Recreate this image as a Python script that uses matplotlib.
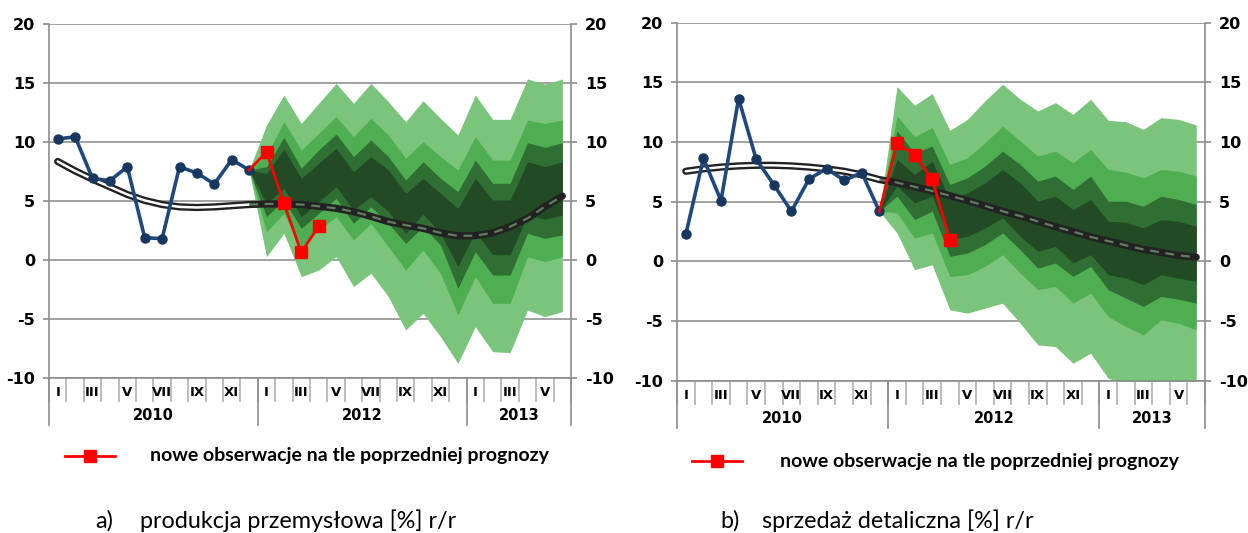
import numpy as np
import matplotlib
matplotlib.use("Agg")
import matplotlib.pyplot as plt
from matplotlib.transforms import blended_transform_factory

plt.rcParams["axes.unicode_minus"] = False

# ---------------- data ----------------
months = ["I", "", "III", "", "V", "", "VII", "", "IX", "", "XI", ""] * 2 + ["I", "", "III", "", "V", ""]
years = ["2010", "2012", "2013"]
year_spans = [(0, 11), (12, 23), (24, 29)]

# panel a) industrial production
a_hist = [10.25, 10.45, 6.92, 6.72, 7.9, 1.89, 1.81, 7.9, 7.37, 6.44, 8.5, 7.63]
a_new = [7.63, 9.13, 4.8, 0.65, 2.88]          # categories 11..15
a_trend = [8.35, 7.55, 6.85, 6.2, 5.55, 5.05, 4.7, 4.5, 4.45, 4.5, 4.6, 4.7, 4.75, 4.75, 4.7,
           4.55, 4.38, 4.1, 3.7, 3.25, 2.95, 2.68, 2.3, 2.05, 2.06, 2.3, 2.82, 3.53, 4.52, 5.42]
# fan boundaries, categories 11..29
a_light_top = [7.63, 11.44, 13.98, 11.58, 13.28, 14.97, 13.28, 14.97, 13.42, 11.72, 13.5, 12.0, 10.6, 13.98, 11.92, 11.92, 15.34, 14.9, 15.34]
a_med_top = [7.63, 8.9, 11.72, 9.32, 10.73, 12.15, 10.45, 12.0, 10.6, 8.62, 10.03, 8.76, 7.63, 10.45, 8.47, 8.47, 11.86, 11.58, 11.86]
a_dark_top = [7.63, 7.9, 10.4, 7.77, 9.32, 10.68, 8.76, 10.17, 8.76, 6.78, 8.33, 6.92, 5.79, 8.47, 6.5, 6.5, 9.94, 9.55, 9.94]
a_core_top = [7.63, 7.34, 9.38, 6.92, 8.19, 9.46, 7.49, 8.76, 7.63, 5.65, 6.92, 5.65, 4.38, 6.92, 5.08, 5.08, 8.33, 7.91, 8.33]
a_core_bot = [7.63, 4.8, 6.07, 3.67, 4.94, 6.21, 4.24, 5.37, 4.1, 2.26, 3.9, 2.26, -0.55, 2.4, 0.45, 0.45, 3.81, 3.45, 3.81]
a_dark_bot = [7.63, 3.67, 5.08, 2.68, 3.95, 5.23, 3.1, 4.52, 3.1, 1.41, 2.82, 1.27, -2.4, 0.7, -1.27, -1.27, 2.26, 1.84, 2.12]
a_med_bot = [7.63, 2.4, 3.95, 1.13, 2.54, 3.67, 1.69, 3.1, 1.13, -0.85, 0.85, -1.13, -4.66, -1.41, -3.67, -3.67, 0.28, -0.14, 0.28]
a_light_bot = [7.63, 0.28, 2.26, -1.41, -0.85, 0.28, -2.26, -1.13, -3.1, -5.93, -4.52, -6.5, -8.76, -5.65, -7.77, -7.85, -4.24, -4.8, -4.38]

# panel b) retail sales
b_hist = [2.26, 8.63, 5.09, 13.64, 8.55, 6.43, 4.19, 6.9, 7.77, 6.79, 7.43, 4.19]
b_new = [4.19, 9.92, 8.91, 6.87, 1.82]          # categories 11..15
b_trend = [7.55, 7.75, 7.9, 8.0, 8.05, 8.05, 8.0, 7.9, 7.75, 7.55, 7.25, 6.85, 6.6, 6.25, 5.9,
           5.5, 5.1, 4.65, 4.2, 3.8, 3.35, 2.9, 2.5, 2.05, 1.7, 1.35, 1.0, 0.75, 0.5, 0.35]
b_light_top = [4.19, 14.65, 13.08, 14.06, 10.98, 11.9, 13.45, 14.85, 13.59, 12.6, 13.3, 12.32, 13.59, 11.82, 11.71, 11.06, 12.04, 11.9, 11.43]
b_med_top = [4.19, 12.18, 10.45, 11.2, 8.12, 8.68, 9.94, 11.34, 10.08, 8.82, 9.24, 8.26, 9.38, 7.7, 7.48, 7.0, 7.7, 7.56, 7.14]
b_dark_top = [4.19, 10.92, 9.1, 9.66, 6.44, 7.0, 7.98, 9.24, 8.12, 6.72, 7.14, 6.02, 7.14, 5.04, 5.04, 4.62, 5.46, 5.18, 4.76]
b_core_top = [4.19, 8.54, 7.28, 8.4, 5.18, 5.74, 6.58, 7.7, 6.58, 5.04, 5.46, 4.34, 5.18, 3.36, 3.28, 2.8, 3.5, 3.36, 2.94]
b_core_bot = [4.19, 6.3, 4.9, 5.46, 1.82, 2.1, 2.8, 3.64, 2.1, 0.84, 1.26, -0.14, 0.56, -1.12, -1.4, -1.96, -1.12, -1.4, -1.68]
b_dark_bot = [4.19, 5.46, 3.5, 4.2, 0.42, 0.7, 1.4, 2.38, 0.98, -0.56, -0.14, -1.26, -0.42, -2.38, -3.08, -3.78, -2.94, -3.17, -3.5]
b_med_bot = [4.19, 4.06, 1.96, 2.38, -1.26, -1.12, -0.42, 0.56, -0.98, -2.38, -2.1, -3.5, -2.66, -4.62, -5.46, -6.16, -4.9, -5.18, -5.74]
b_light_bot = [4.19, 2.38, -0.7, -0.28, -4.06, -4.34, -3.92, -3.5, -5.18, -7.0, -7.14, -8.54, -7.7, -9.8, -10.2, -10.2, -10.2, -10.2, -10.2]

legend_text = "nowe obserwacje na tle poprzedniej prognozy"
captions = ["a)", "b)"]
caption_texts = ["produkcja przemysłowa [%] r/r", "sprzedaż detaliczna [%] r/r"]

# ---------------- style ----------------
C_LIGHT = "#7AC47C"
C_MED = "#50AE52"
C_DARK = "#306F33"
C_CORE = "#224B25"
C_BLUE = "#1F497D"
C_GRID = "#9a9a9a"

fig = plt.figure(figsize=(12.48, 5.33), dpi=100)


def panel(rect, hist, new, trend, bands):
    ax = fig.add_axes(rect)
    n = len(months)
    x_all = np.arange(n)
    fan_x = np.arange(11, n)
    ax.set_xlim(-0.5, n - 0.5)
    ax.set_ylim(-10, 20)
    ax.set_yticks([-10, -5, 0, 5, 10, 15, 20])
    ax.yaxis.grid(True, color=C_GRID, lw=1.3, zorder=0)
    ax.set_axisbelow(True)

    light_top, med_top, dark_top, core_top, core_bot, dark_bot, med_bot, light_bot = bands
    ax.fill_between(fan_x, light_bot, light_top, color=C_LIGHT, lw=0, zorder=1)
    ax.fill_between(fan_x, med_bot, med_top, color=C_MED, lw=0, zorder=2)
    ax.fill_between(fan_x, dark_bot, dark_top, color=C_DARK, lw=0, zorder=3)
    ax.fill_between(fan_x, core_bot, core_top, color=C_CORE, lw=0, zorder=4)

    # double trend line
    ax.plot(x_all, trend, color="#222222", lw=5.2, solid_capstyle="round", zorder=5)
    ax.plot(x_all[:12], trend[:12], color="white", lw=1.8, solid_capstyle="round", zorder=6)
    ax.plot(x_all[11:], trend[11:], color="#5f7d60", lw=1.6, dashes=(4, 3), zorder=6)

    # history
    ax.plot(np.arange(len(hist)), hist, color=C_BLUE, lw=2.6, marker="o", ms=6.5,
            mfc="#17375E", mec="#17375E", zorder=7)
    # new observations
    ax.plot(np.arange(11, 11 + len(new)), new, color="red", lw=2, marker="s", ms=8.5,
            mfc="red", mec="red", markevery=list(range(1, len(new))), zorder=8)

    for s in ["left", "right", "bottom"]:
        ax.spines[s].set_color("#8c8c8c")
        ax.spines[s].set_linewidth(1.2)
    ax.spines["top"].set_visible(False)

    ax.tick_params(axis="y", which="both", left=True, right=True, labelleft=True,
                   labelright=True, direction="out", length=4, width=1.2, color="#8c8c8c",
                   pad=6, labelsize=11.5)
    for lab in ax.get_yticklabels():
        lab.set_fontweight("bold")

    ax.set_xticks([])
    ax.set_xticks(np.arange(-0.5, n, 1.0), minor=True)
    ax.tick_params(axis="x", which="minor", direction="out", length=17, width=1.2,
                   color="#b0b0b0", labelbottom=False)

    tr = blended_transform_factory(ax.transData, ax.transAxes)
    for xs in [-0.5, 11.5, 23.5, n - 0.5]:
        ax.plot([xs, xs], [0, -0.133], transform=tr, color="#8c8c8c", lw=1.2, clip_on=False)
    for i, m in enumerate(months):
        if m:
            ax.text(i, -0.042, m, transform=tr, ha="center", va="center",
                    fontsize=9.5, fontweight="bold")
    for yl, (a, b) in zip(years, year_spans):
        ax.text((a + b) / 2, -0.105, yl, transform=tr, ha="center", va="center",
                fontsize=10.5, fontweight="bold")
    return ax


panel([49 / 1248, 1 - 378 / 533, 522 / 1248, 354 / 533],
      a_hist, a_new, a_trend,
      [a_light_top, a_med_top, a_dark_top, a_core_top, a_core_bot, a_dark_bot, a_med_bot, a_light_bot])
panel([677 / 1248, 1 - 380.7 / 533, 528 / 1248, 358 / 533],
      b_hist, b_new, b_trend,
      [b_light_top, b_med_top, b_dark_top, b_core_top, b_core_bot, b_dark_bot, b_med_bot, b_light_bot])


def fx(px):
    return px / 1248


def fy(py):
    return 1 - py / 533


for (x0, x1, y, tx) in [(65, 115, 456, 150), (692, 742, 461, 780)]:
    fig.add_artist(plt.Line2D([fx(x0), fx(x1)], [fy(y), fy(y)], color="red", lw=2))
    fig.add_artist(plt.Line2D([fx((x0 + x1) / 2)], [fy(y)], color="red", marker="s", ms=8))
    fig.text(fx(tx), fy(y), legend_text, fontsize=14, fontweight="bold", family="Lato",
             ha="left", va="center")

for (cx, tx, t1, t2) in [(95, 140, captions[0], caption_texts[0]),
                          (720, 762, captions[1], caption_texts[1])]:
    fig.text(fx(cx), fy(521), t1, fontsize=16.8, family="Lato", ha="left", va="center")
    fig.text(fx(tx), fy(521), t2, fontsize=16.8, family="Lato", ha="left", va="center")

fig.savefig("out.png", dpi=100)
